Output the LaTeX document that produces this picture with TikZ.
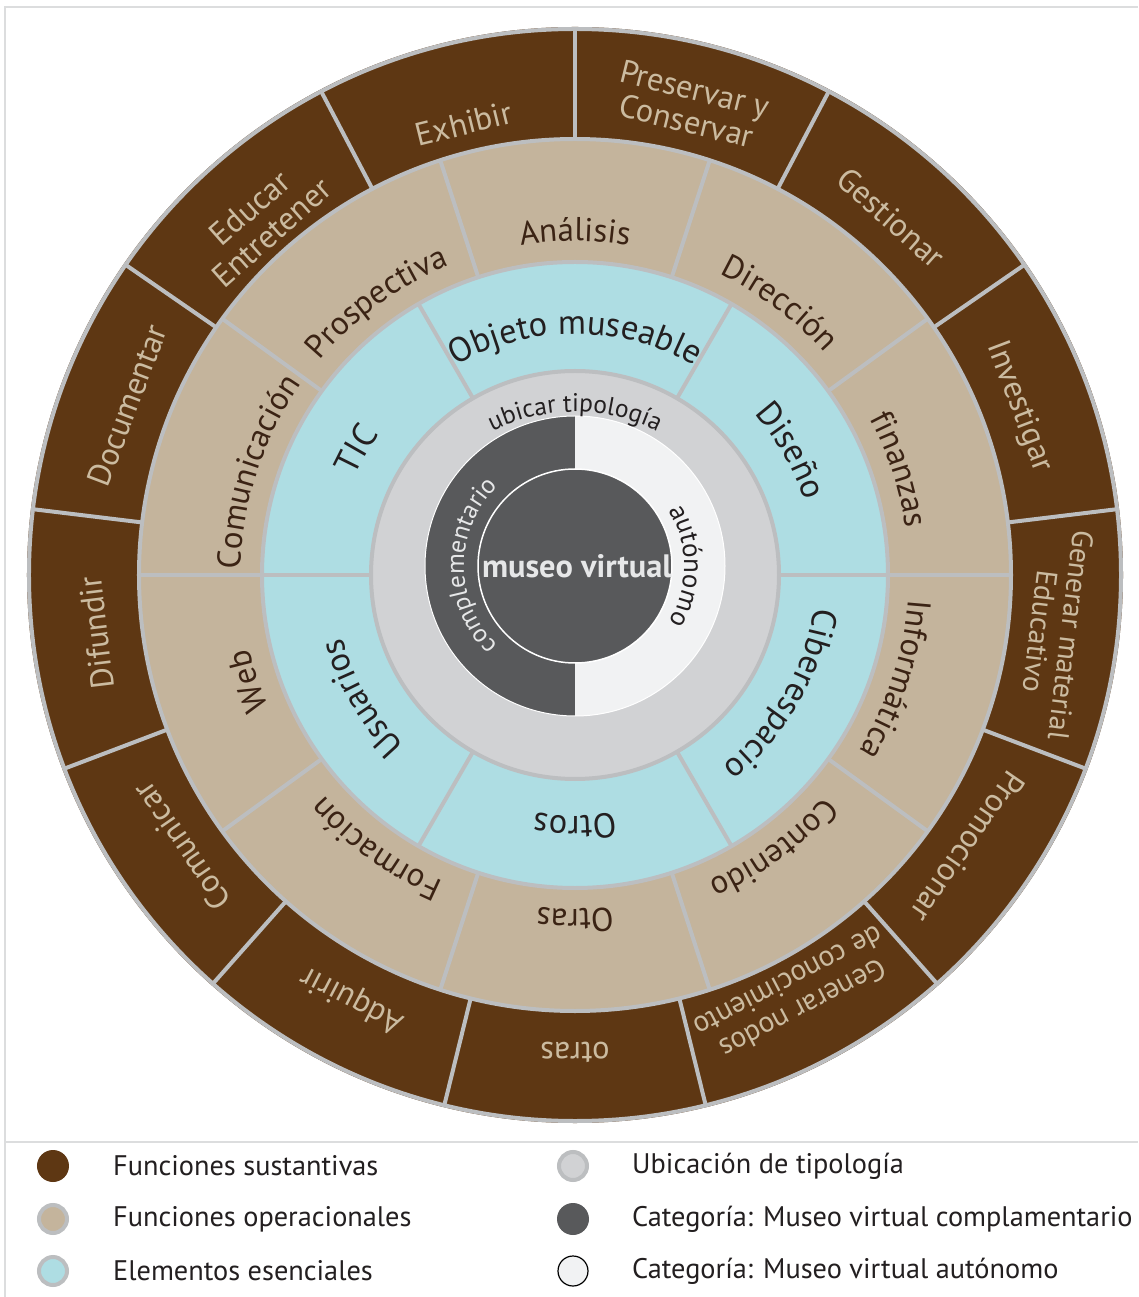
\documentclass[tikz,border=0pt]{standalone}
\usepackage{fontspec}
\setmainfont{PT Sans}
\usetikzlibrary{decorations.text}
\definecolor{brownF}{HTML}{5E3713}
\definecolor{tanF}{HTML}{C4B49C}
\definecolor{cyanF}{HTML}{AEDDE3}
\definecolor{grayR}{HTML}{D1D2D4}
\definecolor{sepG}{HTML}{BCBEC0}
\definecolor{darkG}{HTML}{58595B}
\definecolor{lightG}{HTML}{F1F2F3}
\definecolor{brownTxt}{HTML}{CBBBA0}
\definecolor{tanTxt}{HTML}{3B2314}
\definecolor{cyanTxt}{HTML}{231F20}
\definecolor{frameG}{HTML}{DCDDDE}
\definecolor{museoTxt}{HTML}{E6E7E8}
\newcommand{\tanfmt}{\color{tanTxt}\fontsize{33}{38}\selectfont}
\newcommand{\cyanfmt}{\color{cyanTxt}\fontsize{34.5}{40}\selectfont}
\newcommand{\innerfmt}{\color{cyanTxt}\fontsize{25.5}{30}\selectfont}
\newcommand{\innerwfmt}{\color{museoTxt}\fontsize{25.5}{30}\selectfont}
\newcommand{\autofmt}{\color{cyanTxt}\fontsize{27}{30}\selectfont}
% #1 cx, #2 cy, #3 centre angle, #4 half span, #5 radius, #6 text
\newcommand{\ringtext}[6]{%
  \path[shift={(#1,#2)},decorate,decoration={text along path,text align=center,text={#6}}]
    ({#3+#4}:#5) arc[start angle={#3+#4}, end angle={#3-#4}, radius=#5];}
\tikzset{
  sepline/.style={sepG, line width=4pt},
  brownlab/.style={text=brownTxt, font=\fontsize{32.5}{33}\selectfont, align=center, inner sep=0pt},
  brownsmall/.style={brownlab, font=\fontsize{29.5}{31}\selectfont},
  legdot/.style={circle, minimum size=28pt, inner sep=0pt},
  legtext/.style={anchor=west, text=cyanTxt, font=\fontsize{28.3}{31}\selectfont, inner sep=0pt},
}
\begin{document}
\begin{tikzpicture}[x=1pt,y=1pt]
\useasboundingbox (-575,575) rectangle (563,-722);
\fill[white] (-575,575) rectangle (563,-722);
% frame
\draw[frameG, line width=2.5pt] (-570,-722) -- (-570,568) -- (563,568);
\draw[frameG, line width=2.5pt] (-570,-567) -- (563,-567);
% rings
\fill[brownF] (0,0) circle (548);
\fill[tanF] (0,0) circle (436);
\fill[cyanF] (0,0) circle (313);
\fill[grayR] (0,0) circle (204);
\foreach \k in {0,...,12} \draw[sepline] ({90+\k*360/13}:436) -- ({90+\k*360/13}:548);
\foreach \a in {0,36,...,324} \draw[sepline] (\a:313) -- (\a:436);
\foreach \a in {0,60,...,300} \draw[sepline] (\a:204) -- (\a:313);
\draw[sepline] (0,0) circle (546);
\draw[sepline] (0,0) circle (436);
\draw[sepline] (0,0) circle (313);
\draw[sepline] (0,0) circle (204);
% inner half discs
\fill[darkG] (0,159) arc[start angle=90, end angle=270, radius=150] -- cycle;
\fill[lightG] (0,159) arc[start angle=90, end angle=-90, radius=150] -- cycle;
\draw[white, line width=1pt] (0,9) circle (150);
\fill[darkG] (0,9) circle (97);
\draw[white, line width=1.5pt] (0,9) circle (97);
\node[text=museoTxt, font=\fontsize{32.4}{36}\selectfont\bfseries, inner sep=0pt] (museo) at (2,9) {museo virtual};
% inner curved texts
\ringtext{0}{-22}{90}{45}{185}{|\innerfmt|ubicar tipología}
\ringtext{0}{9}{180}{85}{111}{|\innerwfmt|complementario}
\ringtext{0}{9}{0}{80}{109}{|\autofmt|autónomo}
% cyan ring texts
\ringtext{0}{0}{90}{40}{241}{|\cyanfmt|Objeto museable}
\ringtext{0}{0}{30}{40}{241}{|\cyanfmt|Diseño}
\ringtext{0}{0}{-30}{40}{241}{|\cyanfmt|Ciberespacio}
\ringtext{0}{0}{-90}{40}{241}{|\cyanfmt|Otros}
\ringtext{0}{0}{-150}{40}{241}{|\cyanfmt|Usuarios}
\ringtext{0}{0}{150}{40}{241}{|\cyanfmt|TIC}
% tan ring texts
\ringtext{0}{0}{90}{30}{334}{|\tanfmt|Análisis}
\ringtext{0}{0}{53}{30}{334}{|\tanfmt|Dirección}
\ringtext{0}{0}{18}{30}{334}{|\tanfmt|finanzas}
\ringtext{0}{0}{-18}{30}{334}{|\tanfmt|Informática}
\ringtext{0}{0}{-54}{30}{334}{|\tanfmt|Contenido}
\ringtext{0}{0}{-90}{30}{334}{|\tanfmt|Otras}
\ringtext{0}{0}{-126}{30}{334}{|\tanfmt|Formación}
\ringtext{0}{0}{-162}{30}{334}{|\tanfmt|Web}
\ringtext{0}{0}{162}{30}{334}{|\tanfmt|Comunicación}
\ringtext{0}{0}{126}{30}{334}{|\tanfmt|Prospectiva}
% brown ring labels
\node[brownlab, rotate=13.85] (exhibir) at (103.85:465) {Exhibir};
\node[brownlab, rotate=-13.85] (preservar) at (76.15:484) {Preservar y\\Conservar};
\node[brownlab, rotate=-41.54] (gestionar) at (48.46:477) {Gestionar};
\node[brownlab, rotate=-69.23] (investigar) at (20.77:475) {Investigar};
\node[brownsmall, rotate=-96.92] (generarmat) at (-6.92:484) {Generar material\\Educativo};
\node[brownlab, rotate=-124.62] (promocionar) at (-34.62:478) {Promocionar};
\node[brownsmall, rotate=-152.31] (nodos) at (-62.31:475) {Generar nodos\\de conocimiento};
\node[brownlab, rotate=180] (otras) at (-90:477) {otras};
\node[brownlab, rotate=152.31] (adquirir) at (-117.69:479) {Adquirir};
\node[brownlab, rotate=124.62] (comunicar) at (-145.38:478) {Comunicar};
\node[brownlab, rotate=96.92] (difundir) at (-173.08:482) {Difundir};
\node[brownlab, rotate=69.23] (documentar) at (159.23:479) {Documentar};
\node[brownlab, rotate=41.54] (educar) at (131.54:474) {Educar\\Entretener};
% legend
\node[legdot, fill=brownF, minimum size=32pt] (d1) at (-522,-591) {};
\node[legdot, fill=tanF, draw=sepG, line width=4pt] (d2) at (-522,-644) {};
\node[legdot, fill=cyanF, draw=sepG, line width=4pt] (d3) at (-522,-696) {};
\node[legdot, fill=grayR, draw=sepG, line width=4pt] (d4) at (-2,-591) {};
\node[legdot, fill=darkG, minimum size=32pt] (d5) at (-2,-644) {};
\node[legdot, fill=lightG, draw=black, line width=1.2pt, minimum size=30pt] (d6) at (-2,-696) {};
\node[legtext] (t1) at (-462,-591) {Funciones sustantivas};
\node[legtext] (t2) at (-462,-644) {Funciones operacionales};
\node[legtext] (t3) at (-462,-696) {Elementos esenciales};
\node[legtext] (t4) at (57,-591) {Ubicación de tipología};
\node[legtext] (t5) at (57,-644) {Categoría: Museo virtual complamentario};
\node[legtext] (t6) at (57,-696) {Categoría: Museo virtual autónomo};
\end{tikzpicture}
\end{document}
